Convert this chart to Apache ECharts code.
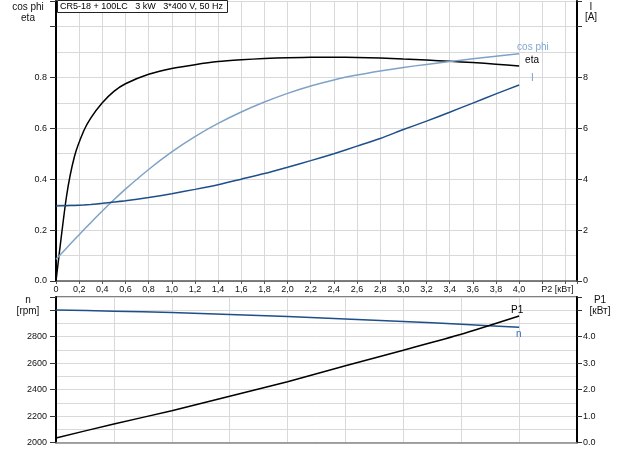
<!DOCTYPE html>
<html>
<head>
<meta charset="utf-8">
<script src="https://cdn.jsdelivr.net/npm/echarts@6/dist/echarts.min.js"></script>
<style>
html,body{margin:0;padding:0;background:#fff;}
#c{width:622px;height:450px;}
</style>
</head>
<body>
<div id="c"></div>
<script>
// ---- data ----
const titleText = 'CR5-18 + 100LC   3 kW   3*400 V, 50 Hz';
// upper chart: P2 [kW]
const p2Top = [0, 0.09, 0.16, 0.24, 0.3, 0.4, 0.5, 0.6, 0.8, 1.0, 1.2, 1.4, 1.6, 1.8, 2.0, 2.2, 2.4, 2.6, 2.8, 3.0, 3.2, 3.4, 3.6, 3.8, 4.0];
const eta    = [0, 0.33, 0.49, 0.59, 0.64, 0.70, 0.745, 0.775, 0.812, 0.835, 0.850, 0.862, 0.869, 0.874, 0.877, 0.879, 0.879, 0.878, 0.876, 0.872, 0.868, 0.863, 0.858, 0.852, 0.845];
const cosPhi = [0.085, 0.129, 0.163, 0.201, 0.229, 0.275, 0.319, 0.361, 0.438, 0.507, 0.567, 0.619, 0.664, 0.703, 0.737, 0.766, 0.790, 0.809, 0.825, 0.839, 0.851, 0.862, 0.873, 0.883, 0.893];
const current = [2.95, 2.96, 2.97, 2.99, 3.01, 3.05, 3.10, 3.15, 3.28, 3.43, 3.60, 3.78, 4.00, 4.22, 4.47, 4.73, 5.00, 5.30, 5.60, 5.95, 6.28, 6.63, 6.99, 7.35, 7.70];
// lower chart
const p2Bottom = [0, 0.5, 1.0, 1.5, 2.0, 2.5, 3.0, 3.5, 4.0];
const speed = [3002, 2993, 2982, 2968, 2952, 2934, 2915, 2894, 2871];
const p1 = [0.17, 0.70, 1.20, 1.75, 2.30, 2.90, 3.49, 4.09, 4.78];

const pairs = (xs, ys) => xs.map((x, i) => [x, ys[i]]);

const FONT = 'Liberation Sans, Arial, sans-serif';
const FS = 9;
const txt = {color: '#111', fontSize: FS, fontFamily: FONT};
const gridLine = {show: true, lineStyle: {color: '#d9d9d9', width: 1}};
const noAxis = {axisLine: {show: false}, axisTick: {show: false}, axisLabel: {show: false}};

const chart = echarts.init(document.getElementById('c'), null, {renderer: 'canvas'});
chart.setOption({
  animation: false,
  backgroundColor: '#fff',
  title: {
    text: titleText, left: 57, top: 0,
    padding: [2, 5, 2, 3],
    borderColor: '#222', borderWidth: 1, backgroundColor: '#fff',
    textStyle: {fontSize: FS, fontWeight: 'normal', color: '#000', fontFamily: FONT}
  },
  grid: [
    {left: 56, right: 45, top: 1, height: 280, show: false},
    {left: 56, right: 45, top: 297, height: 145.5, show: true, borderColor: '#000', borderWidth: 1}
  ],
  xAxis: [
    {gridIndex: 0, type: 'value', min: 0, max: 4.5, interval: 0.2,
     axisLine: {lineStyle: {color: '#555', width: 1.5}},
     axisTick: {show: true, length: 3, lineStyle: {color: '#555'}},
     axisLabel: Object.assign({margin: 4, formatter: function (v) {
        if (v === 0) return '0';
        if (Math.abs(v - 4.4) < 1e-6) return '{n|P2 [кВт]}';
        if (v > 4.01) return '';
        return v.toFixed(1).replace('.', ',');
     }, rich: {n: {fontSize: FS, fontFamily: FONT, color: '#111', padding: [0, 16, 0, 0]}}}, txt),
     splitLine: gridLine},
    {gridIndex: 1, type: 'value', min: 0, max: 4.5, interval: 0.5,
     axisLine: {lineStyle: {color: '#888', width: 1.5}}, axisTick: {show: false}, axisLabel: {show: false},
     splitLine: gridLine}
  ],
  yAxis: [
    {gridIndex: 0, type: 'value', position: 'left', min: 0, max: 1.1, interval: 0.2,
     axisLine: {show: true, lineStyle: {color: '#000', width: 2}},
     axisTick: {show: true, length: 6, lineStyle: {color: '#333'}},
     axisLabel: Object.assign({margin: 9, formatter: v => v <= 0.81 ? v.toFixed(1) : ''}, txt),
     splitLine: {show: false}},
    Object.assign({gridIndex: 0, type: 'value', position: 'left', min: 0, max: 1.1, interval: 0.1, splitLine: gridLine}, noAxis),
    {gridIndex: 0, type: 'value', position: 'right', min: 0, max: 11, interval: 2,
     axisLine: {show: true, lineStyle: {color: '#000', width: 2}},
     axisTick: {show: true, length: 5, lineStyle: {color: '#333'}},
     axisLabel: Object.assign({margin: 6, formatter: v => v <= 8 ? String(v) : ''}, txt),
     splitLine: {show: false}},
    {gridIndex: 1, type: 'value', position: 'left', min: 2000, max: 3100, interval: 200,
     axisLine: {show: true, lineStyle: {color: '#000', width: 2}},
     axisTick: {show: true, length: 6, lineStyle: {color: '#333'}},
     axisLabel: Object.assign({margin: 9, formatter: v => v <= 2800 ? String(v) : ''}, txt),
     splitLine: {show: false}},
    Object.assign({gridIndex: 1, type: 'value', position: 'left', min: 2000, max: 3100, interval: 100, splitLine: gridLine}, noAxis),
    {gridIndex: 1, type: 'value', position: 'right', min: 0, max: 5.5, interval: 1,
     axisLine: {show: true, lineStyle: {color: '#000', width: 2}},
     axisTick: {show: true, length: 5, lineStyle: {color: '#333'}},
     axisLabel: Object.assign({margin: 6, formatter: v => v <= 4.01 ? v.toFixed(1) : ''}, txt),
     splitLine: {show: false}}
  ],
  graphic: [
    {type: 'text', style: {text: 'cos phi\neta', x: 28, y: 2, align: 'center', fontSize: FS + 1, fontFamily: FONT, fill: '#111', lineHeight: 11}},
    {type: 'text', style: {text: 'I\n[A]', x: 591, y: 2, align: 'center', fontSize: FS + 1, fontFamily: FONT, fill: '#111', lineHeight: 10}},
    {type: 'text', style: {text: 'n\n[rpm]', x: 28, y: 295, align: 'center', fontSize: FS + 1, fontFamily: FONT, fill: '#111', lineHeight: 11}},
    {type: 'text', style: {text: 'P1\n[кВт]', x: 600, y: 295, align: 'center', fontSize: FS + 1, fontFamily: FONT, fill: '#111', lineHeight: 11}}
  ],
  series: [
    {name: 'eta', type: 'line', xAxisIndex: 0, yAxisIndex: 0, data: pairs(p2Top, eta),
     smooth: 0.2,
     showSymbol: false, symbol: 'none', lineStyle: {color: '#000', width: 1.5},
     endLabel: {show: true, formatter: 'eta', color: '#000', fontSize: FS + 1, fontFamily: FONT, offset: [-2, -6]}},
    {name: 'cos phi', type: 'line', xAxisIndex: 0, yAxisIndex: 0, data: pairs(p2Top, cosPhi),
     smooth: 0.2,
     showSymbol: false, symbol: 'none', lineStyle: {color: '#7fa2c6', width: 1.5},
     endLabel: {show: true, formatter: 'cos phi', color: '#7fa6d2', fontSize: FS + 1, fontFamily: FONT, offset: [-10, -6]}},
    {name: 'I', type: 'line', xAxisIndex: 0, yAxisIndex: 2, data: pairs(p2Top, current),
     smooth: 0.2,
     showSymbol: false, symbol: 'none', lineStyle: {color: '#1f4f8a', width: 1.5},
     endLabel: {show: true, formatter: 'I', color: '#7a9ccc', fontSize: FS + 1, fontFamily: FONT, offset: [4, -7]}},
    {name: 'n', type: 'line', xAxisIndex: 1, yAxisIndex: 3, data: pairs(p2Bottom, speed),
     smooth: 0.2,
     showSymbol: false, symbol: 'none', lineStyle: {color: '#1f4f8a', width: 1.5},
     endLabel: {show: true, formatter: 'n', color: '#3c6fb0', fontSize: FS + 1, fontFamily: FONT, offset: [-11, 7]}},
    {name: 'P1', type: 'line', xAxisIndex: 1, yAxisIndex: 5, data: pairs(p2Bottom, p1),
     smooth: 0.2,
     showSymbol: false, symbol: 'none', lineStyle: {color: '#000', width: 1.5},
     endLabel: {show: true, formatter: 'P1', color: '#000', fontSize: FS + 1, fontFamily: FONT, offset: [-16, -6]}}
  ]
});
</script>
</body>
</html>
